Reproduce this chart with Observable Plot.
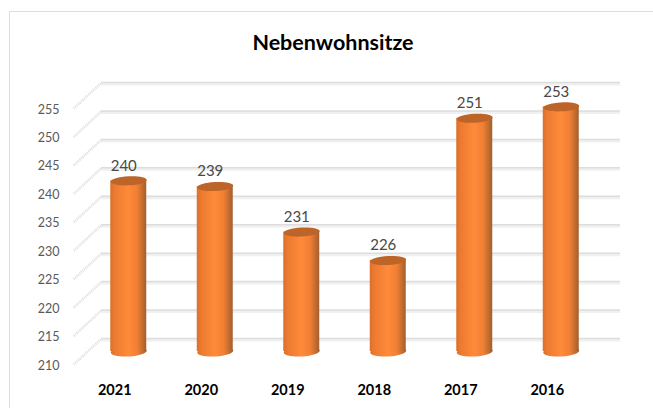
<!DOCTYPE html>
<html>
<head>
<meta charset="utf-8">
<script src="https://cdn.jsdelivr.net/npm/d3@7"></script>
<script src="https://cdn.jsdelivr.net/npm/@observablehq/plot@0.6"></script>
<style>
  html, body { margin: 0; padding: 0; background: #fff; }
  #chart { position: relative; width: 653px; height: 408px; overflow: hidden; }
  #border { position: absolute; left: 9px; top: 11px; right: -5px; bottom: -5px;
            border-top: 1.5px solid #dedede; border-left: 1.5px solid #dedede; }
  #title { position: absolute; left: 0; top: 29px; width: 666px; text-align: center;
           font: 700 21.5px/26px Lato, sans-serif; color: #000; }
  #plot { position: absolute; left: 0; top: 60px; }
  svg { display: block; }
</style>
</head>
<body>
<div id="chart"><div id="border"></div><div id="title">Nebenwohnsitze</div><div id="plot"></div></div>
<script>
const titleText = "Nebenwohnsitze";
const years = ["2021", "2020", "2019", "2018", "2017", "2016"];
const values = [240, 239, 231, 226, 251, 253];
const yTicks = [210, 215, 220, 225, 230, 235, 240, 245, 250, 255];
const baseline = 210;

const data = years.map((year, i) => ({year, value: values[i]}));

function ellipseSymbol(rx, ry, angleDeg) {
  const a = angleDeg * Math.PI / 180, c = Math.cos(a), s = Math.sin(a), k = 0.5523;
  const p = (x, y) => [x * c - y * s, x * s + y * c];
  return {
    draw(ctx) {
      ctx.moveTo(...p(rx, 0));
      ctx.bezierCurveTo(...p(rx, k * ry), ...p(k * rx, ry), ...p(0, ry));
      ctx.bezierCurveTo(...p(-k * rx, ry), ...p(-rx, k * ry), ...p(-rx, 0));
      ctx.bezierCurveTo(...p(-rx, -k * ry), ...p(-k * rx, -ry), ...p(0, -ry));
      ctx.bezierCurveTo(...p(k * rx, -ry), ...p(rx, -k * ry), ...p(rx, 0));
      ctx.closePath();
    }
  };
}
const depthStroke = {draw(ctx) { ctx.moveTo(0, 0); ctx.lineTo(28, -26); }};

function gradientDefs() {
  const defs = d3.create("svg:defs");
  const g = defs.append("linearGradient").attr("id", "cyl").attr("x1", 0).attr("x2", 1).attr("y1", 0).attr("y2", 0);
  [[0, "#d9702c"], [0.12, "#ec7a30"], [0.5, "#ff8a3a"], [0.75, "#f07f34"], [0.93, "#b8682f"], [1, "#a0602f"]]
    .forEach(([o, c]) => g.append("stop").attr("offset", o).attr("stop-color", c));
  return defs.node();
}

const chart = Plot.plot({
  width: 653,
  height: 348,
  marginLeft: 71,
  marginRight: 63,
  marginTop: 22,
  marginBottom: 70,
  style: {background: "transparent", fontFamily: "Lato, sans-serif"},
  x: {domain: years, paddingInner: 0.584, paddingOuter: 0.292, round: false, label: null},
  y: {domain: [210, 255], label: null},
  marks: [
    gradientDefs,
    Plot.ruleY(yTicks, {dx: 30, dy: 1.5, stroke: "#f0f0f0", strokeWidth: 3}),
    Plot.ruleY(yTicks, {dx: 30, stroke: "#dddddd", strokeWidth: 1.5}),
    Plot.dot(yTicks, {x: () => years[0], y: d => d, dx: -41, dy: 26, symbol: depthStroke, r: 1,
      fill: "none", stroke: "#dcdcdc", strokeWidth: 2.5, strokeDasharray: "1 1"}),
    Plot.axisY({ticks: yTicks, anchor: "left", tickSize: 0, tickPadding: 12, dy: 27,
      fontSize: 12.5, fill: "#595959", label: null}),
    Plot.axisX({anchor: "bottom", tickSize: 0, tickPadding: 46, fontSize: 14.5, fontWeight: 700,
      fill: "#000000", label: null}),
    Plot.dot(data, {x: "year", y: () => baseline, dx: 14, dy: 13, r: 1,
      symbol: ellipseSymbol(18, 5, -3), fill: "url(#cyl)"}),
    Plot.barY(data, {x: "year", y1: () => baseline, y2: "value", dx: 14, dy: 13, fill: "url(#cyl)"}),
    Plot.dot(data, {x: "year", y: "value", dx: 14, dy: 13, r: 1,
      symbol: ellipseSymbol(18, 4.5, -3), fill: "#bd6428"}),
    Plot.text(data, {x: "year", y: "value", text: d => String(d.value), dx: 9, dy: -2,
      fontSize: 15, fill: "#484848"})
  ]
});
document.getElementById("plot").appendChild(chart);
document.getElementById("title").textContent = titleText;
</script>
</body>
</html>
